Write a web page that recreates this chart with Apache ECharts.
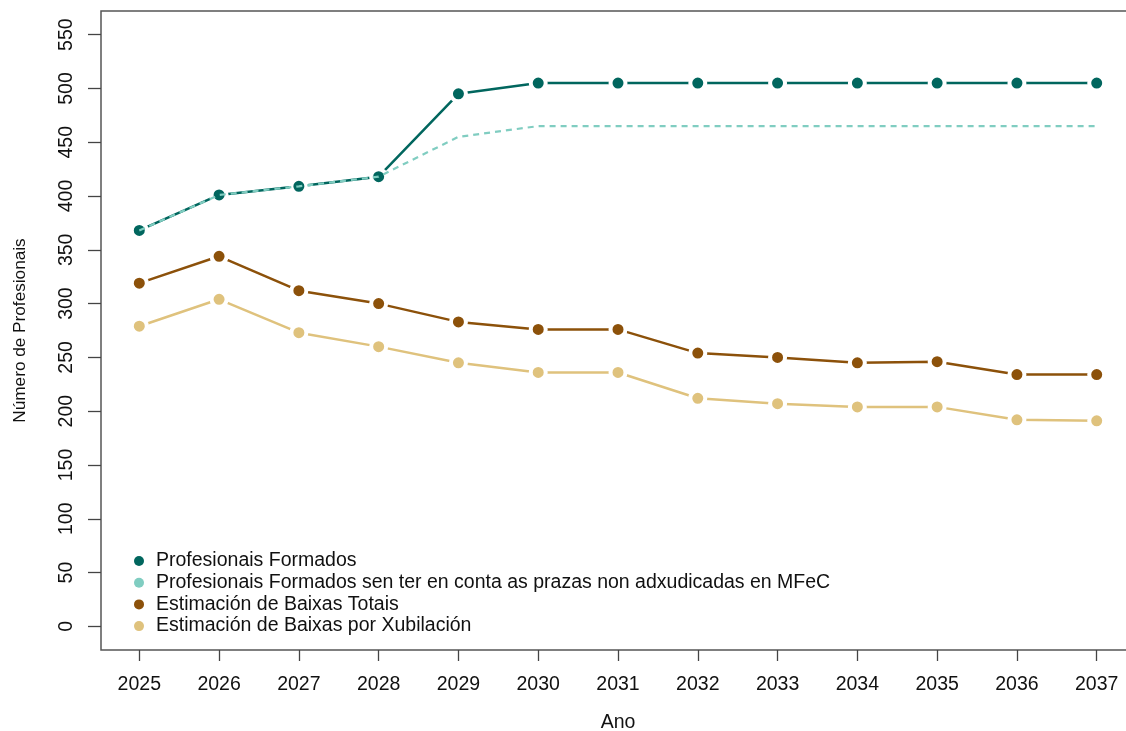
<!DOCTYPE html>
<html>
<head>
<meta charset="utf-8">
<script src="https://cdn.jsdelivr.net/npm/echarts@6/dist/echarts.min.js"></script>
<style>
html,body{margin:0;padding:0;background:#fff;}
#chart{width:1126px;height:731px;}
</style>
</head>
<body>
<div id="chart"></div>
<script>
const years = [2025,2026,2027,2028,2029,2030,2031,2032,2033,2034,2035,2036,2037];
const yTicks = [0,50,100,150,200,250,300,350,400,450,500,550];
const seriesNames = [
  'Profesionais Formados',
  'Profesionais Formados sen ter en conta as prazas non adxudicadas en MFeC',
  'Estimación de Baixas Totais',
  'Estimación de Baixas por Xubilación'
];
const formados = [368,401,409,418,495,505,505,505,505,505,505,505,505];
const formadosSenMFeC = [368,401,409,418,455,465,465,465,465,465,465,465,465];
const baixasTotais = [319,344,312,300,283,276,276,254,250,245,246,234,234];
const baixasXubilacion = [279,304,273,260,245,236,236,212,207,204,204,192,191];

const colDark = '#01665e', colLight = '#80cdc1', colBrown = '#8c510a', colTan = '#dfc27d';
const font = 'Liberation Sans, Arial, Helvetica, sans-serif';
const fs = 19.5;
const pairs = arr => years.map((y, i) => [y, arr[i]]);

function markedLine(name, data, color, z) {
  return {
    name: name, type: 'line', data: pairs(data), z: z,
    symbol: 'circle', symbolSize: 15, showSymbol: true,
    lineStyle: {color: color, width: 2.5},
    itemStyle: {color: color, borderColor: '#fff', borderWidth: 4},
    emphasis: {disabled: true}
  };
}

const chart = echarts.init(document.getElementById('chart'), null, {renderer: 'canvas'});
chart.setOption({
  animation: false,
  backgroundColor: '#fff',
  textStyle: {fontFamily: font},
  grid: {left: 101, top: 11, width: 1034, height: 639, show: true,
         outerBoundsMode: 'none', containLabel: false,
         borderColor: '#555', borderWidth: 1.5, backgroundColor: 'transparent'},
  xAxis: {
    type: 'value', min: 2024.52, max: 2037.48,
    name: 'Ano', nameLocation: 'middle', nameGap: 63,
    nameTextStyle: {fontSize: fs, color: '#111', fontFamily: font},
    axisLine: {show: false, onZero: false},
    splitLine: {show: false},
    axisTick: {show: true, length: 11, customValues: years, lineStyle: {color: '#444', width: 1.3}},
    axisLabel: {customValues: years, fontSize: fs, color: '#111', margin: 25, fontFamily: font,
                formatter: v => String(v)}
  },
  yAxis: {
    type: 'value', min: -22, max: 572,
    name: 'Número de Profesionais', nameLocation: 'middle', nameGap: 72, nameRotate: 90,
    nameTextStyle: {fontSize: 17.2, color: '#111', fontFamily: font},
    axisLine: {show: false, onZero: false},
    splitLine: {show: false},
    axisTick: {show: true, length: 13, customValues: yTicks, lineStyle: {color: '#444', width: 1.3}},
    axisLabel: {customValues: yTicks, rotate: 90, fontSize: fs, color: '#111', margin: 24, fontFamily: font}
  },
  legend: {
    orient: 'vertical', left: 129, top: 546, icon: 'circle',
    itemWidth: 24, itemHeight: 10, itemGap: 1.7,
    itemStyle: {borderWidth: 0},
    textStyle: {fontSize: fs, color: '#111', lineHeight: 19.2, fontFamily: font},
    data: seriesNames
  },
  series: [
    markedLine(seriesNames[0], formados, colDark, 2),
    {
      name: seriesNames[1], type: 'line', data: pairs(formadosSenMFeC), z: 4,
      symbol: 'circle', showSymbol: false,
      lineStyle: {color: colLight, width: 2.2, type: [6, 5]},
      itemStyle: {color: colLight},
      emphasis: {disabled: true}
    },
    markedLine(seriesNames[2], baixasTotais, colBrown, 2),
    markedLine(seriesNames[3], baixasXubilacion, colTan, 2)
  ]
});
</script>
</body>
</html>
